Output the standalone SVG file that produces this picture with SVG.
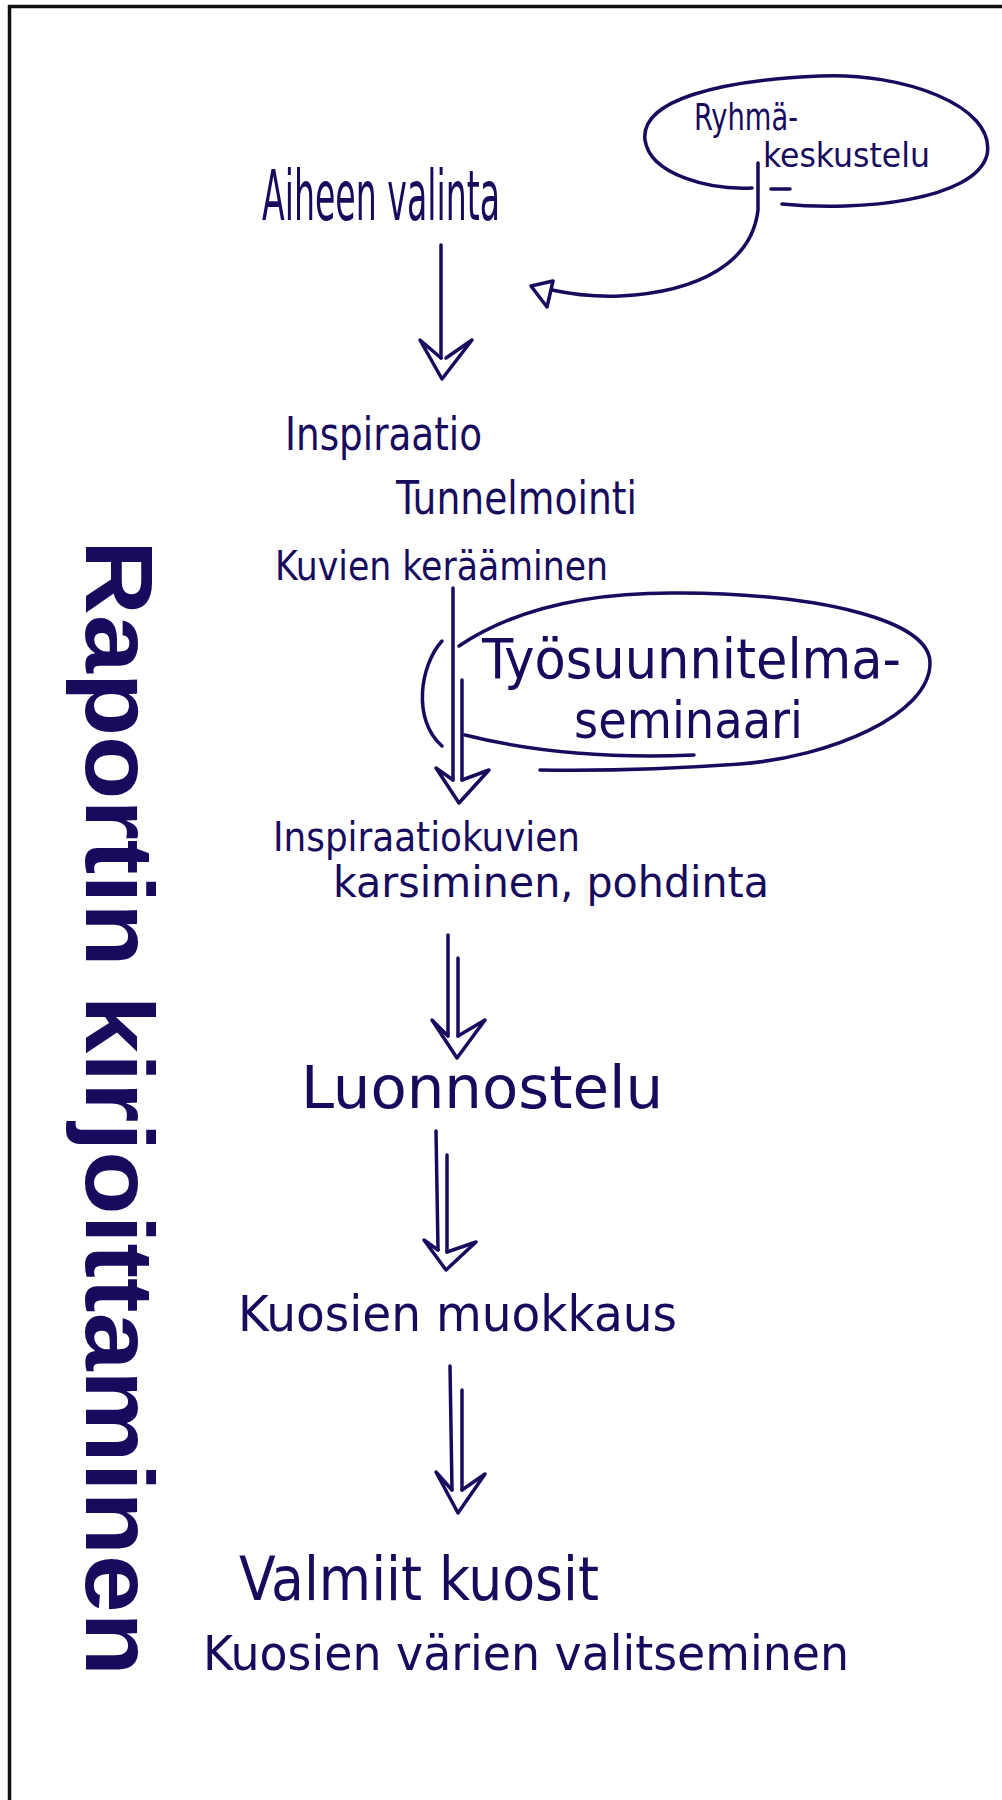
<svg xmlns="http://www.w3.org/2000/svg" width="1002" height="1800" viewBox="0 0 1002 1800">
<style>
.frame{fill:none;stroke:#111;stroke-width:3.5}
.hand{font-family:"Liberation Sans Narrow","DejaVu Sans Condensed","Liberation Sans",sans-serif;fill:#170b5e}
.ink{fill:none;stroke:#170b5e;stroke-width:3.5;stroke-linecap:round;stroke-linejoin:round}
.title{font-family:"Liberation Sans","DejaVu Sans",sans-serif;font-weight:bold;fill:#170b5e}
</style>
<rect class="frame" x="9.5" y="6.5" width="1100" height="1900"/>

<g id="title">
<text class="title" font-size="96" transform="translate(86,540) rotate(90)" textLength="1136" lengthAdjust="spacingAndGlyphs">Raportin kirjoittaminen</text>
</g>

<g id="aiheen">
<text class="hand" x="262" y="220" font-size="70" textLength="238" lengthAdjust="spacingAndGlyphs">Aiheen valinta</text>
</g>

<g id="ryhma">
<path class="ink" d="M782,204 C860,212 975,200 987,155 C997,105 900,72 820,76 C720,80 640,100 645,140 C650,175 710,190 752,188"/>
<path class="ink" d="M771,189 L790,189"/>
<text class="hand" x="694" y="130" font-size="38" textLength="104" lengthAdjust="spacingAndGlyphs">Ryhmä-</text>
<text class="hand" x="763" y="167" font-size="34" textLength="167" lengthAdjust="spacingAndGlyphs">keskustelu</text>
</g>

<g id="inspiraatio">
<text class="hand" x="285" y="450" font-size="46" textLength="197" lengthAdjust="spacingAndGlyphs">Inspiraatio</text>
<text class="hand" x="396" y="514" font-size="46" textLength="241" lengthAdjust="spacingAndGlyphs">Tunnelmointi</text>
<text class="hand" x="275" y="580" font-size="40" textLength="333" lengthAdjust="spacingAndGlyphs">Kuvien kerääminen</text>
</g>

<g id="seminaari">
<path class="ink" d="M459,646 C520,605 600,592 680,593 C820,594 930,620 930,663 C930,715 830,757 740,764 C670,769 600,771 540,770"/>
<path class="ink" d="M465,735 C540,754 620,758 694,755"/>
<path class="ink" d="M442,641 C420,665 412,720 442,746"/>
<text class="hand" x="482" y="678" font-size="56" textLength="419" lengthAdjust="spacingAndGlyphs">Työsuunnitelma-</text>
<text class="hand" x="574" y="738" font-size="52" textLength="229" lengthAdjust="spacingAndGlyphs">seminaari</text>
</g>

<g id="karsiminen">
<text class="hand" x="273" y="851" font-size="40" textLength="307" lengthAdjust="spacingAndGlyphs">Inspiraatiokuvien</text>
<text class="hand" x="333" y="897" font-size="42" textLength="436" lengthAdjust="spacingAndGlyphs">karsiminen, pohdinta</text>
</g>

<g id="luonnostelu">
<text class="hand" x="301" y="1108" font-size="58" textLength="362" lengthAdjust="spacingAndGlyphs">Luonnostelu</text>
</g>

<g id="muokkaus">
<text class="hand" x="238" y="1331" font-size="50" textLength="439" lengthAdjust="spacingAndGlyphs">Kuosien muokkaus</text>
</g>

<g id="valmiit">
<text class="hand" x="239" y="1600" font-size="60" textLength="360" lengthAdjust="spacingAndGlyphs">Valmiit kuosit</text>
<text class="hand" x="203" y="1670" font-size="48" textLength="646" lengthAdjust="spacingAndGlyphs">Kuosien värien valitseminen</text>
</g>

<g id="connectors">
<path class="ink" d="M758,163 L758,210 C752,262 700,292 620,296 C590,297 570,294 552,290"/>
<path class="ink" d="M531,286 L553,281 L547,307 Z"/>

<path class="ink" d="M441,245 L441,358"/>
<path class="ink" d="M441,358 L420,340 L442,379 L472,340 L446,358"/>

<path class="ink" d="M453,588 L453,780"/>
<path class="ink" d="M462,680 L462,780"/>
<path class="ink" d="M453,780 L436,768 L459,803 L489,770 L462,780"/>

<path class="ink" d="M448,935 L448,1036"/>
<path class="ink" d="M458,958 L458,1036"/>
<path class="ink" d="M448,1036 L432,1020 L457,1058 L485,1020 L458,1036"/>

<path class="ink" d="M436,1131 L438,1250"/>
<path class="ink" d="M447,1155 L447,1252"/>
<path class="ink" d="M438,1250 L424,1240 L446,1270 L476,1242 L447,1252"/>

<path class="ink" d="M450,1366 L452,1490"/>
<path class="ink" d="M462,1390 L462,1490"/>
<path class="ink" d="M452,1490 L436,1472 L458,1513 L485,1474 L462,1490"/>
</g>
</svg>
